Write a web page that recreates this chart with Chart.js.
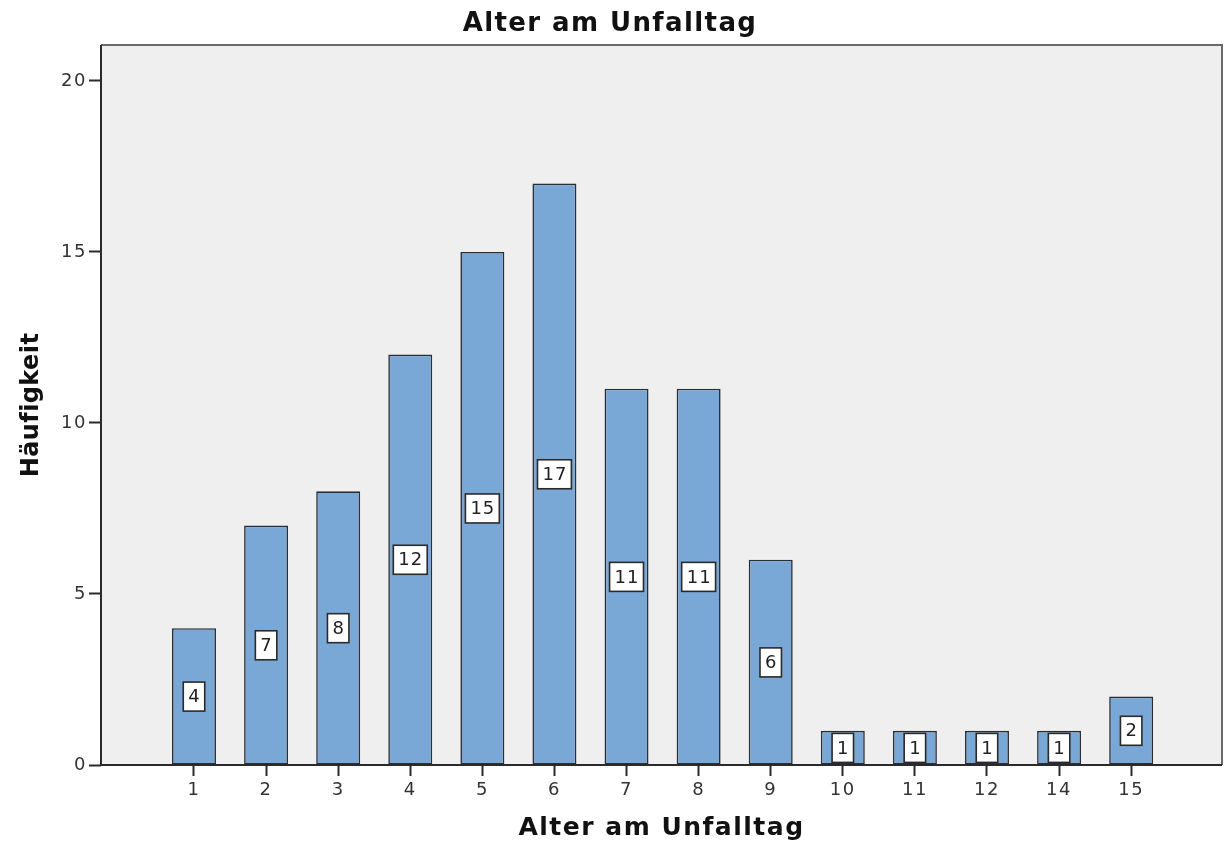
<!DOCTYPE html>
<html>
<head>
<meta charset="utf-8">
<script src="https://cdn.jsdelivr.net/npm/chart.js@4/dist/chart.umd.min.js"></script>
<style>
  html, body { margin: 0; padding: 0; background: #ffffff; }
  #wrap { width: 1224px; height: 843px; }
</style>
</head>
<body>
<div id="wrap"><canvas id="c" width="1224" height="843"></canvas></div>
<script>
// Age at the day of the accident and how many cases fall on each age
const ages = ['1', '2', '3', '4', '5', '6', '7', '8', '9', '10', '11', '12', '14', '15'];
const counts = [4, 7, 8, 12, 15, 17, 11, 11, 6, 1, 1, 1, 1, 2];
const yTicks = [0, 5, 10, 15, 20];

const chartTitle = 'Alter am Unfalltag';
const xTitle = 'Alter am Unfalltag';
const yTitle = 'Häufigkeit';

const FONT = '"DejaVu Sans", "Liberation Sans", sans-serif';

// Grey panel behind the bars plus the frame around it; also widens tick text spacing
const panel = {
  id: 'panel',
  beforeDraw(chart) {
    const { ctx, chartArea: a } = chart;
    ctx.fillStyle = '#efefef';
    ctx.fillRect(a.left, a.top, a.right - a.left, a.bottom - a.top);
    ctx.letterSpacing = '1.5px';
  },
  afterDraw(chart) {
    const { ctx, chartArea: a } = chart;
    ctx.save();
    ctx.strokeStyle = '#6a6a6a';
    ctx.lineWidth = 2;
    ctx.beginPath();
    ctx.moveTo(a.left, a.top);
    ctx.lineTo(a.right, a.top);
    ctx.lineTo(a.right, a.bottom);
    ctx.stroke();
    ctx.strokeStyle = '#2a2a2a';
    ctx.beginPath();
    ctx.moveTo(a.left, a.top);
    ctx.lineTo(a.left, a.bottom);
    ctx.lineTo(a.right, a.bottom);
    ctx.stroke();
    ctx.restore();
  }
};

// Boxed count label in the middle of every bar
const boxLabels = {
  id: 'boxLabels',
  afterDatasetsDraw(chart) {
    const { ctx } = chart;
    const meta = chart.getDatasetMeta(0);
    const yScale = chart.scales.y;
    ctx.save();
    ctx.letterSpacing = '1px';
    ctx.font = '18px ' + FONT;
    ctx.textAlign = 'center';
    ctx.textBaseline = 'middle';
    meta.data.forEach((bar, i) => {
      const v = counts[i];
      const cx = bar.x;
      const cy = yScale.getPixelForValue(v / 2);
      const txt = String(v);
      const w = ctx.measureText(txt).width + 9;
      const h = 29;
      ctx.fillStyle = '#ffffff';
      ctx.fillRect(cx - w / 2, cy - h / 2, w, h);
      ctx.strokeStyle = '#2a2a2a';
      ctx.lineWidth = 1.6;
      ctx.strokeRect(cx - w / 2, cy - h / 2, w, h);
      ctx.fillStyle = '#222222';
      ctx.fillText(txt, cx + 0.5, cy + 1);
    });
    ctx.restore();
  }
};

// Chart title and both axis titles
const titles = {
  id: 'titles',
  afterDraw(chart) {
    const { ctx, chartArea: a } = chart;
    ctx.save();
    ctx.fillStyle = '#111111';
    ctx.textAlign = 'center';
    ctx.textBaseline = 'middle';
    ctx.font = 'bold 26px ' + FONT;
    ctx.letterSpacing = '1.4px';
    ctx.fillText(chartTitle, 610, 24);
    ctx.font = 'bold 25px ' + FONT;
    ctx.letterSpacing = '1.5px';
    ctx.fillText(xTitle, (a.left + a.right) / 2, 828);
    ctx.font = 'bold 24px ' + FONT;
    ctx.letterSpacing = '0.4px';
    ctx.translate(32, (a.top + a.bottom) / 2);
    ctx.rotate(-Math.PI / 2);
    ctx.fillText(yTitle, 0, 0);
    ctx.restore();
  }
};

const points = counts.map((v, i) => ({ x: i, y: v }));

new Chart(document.getElementById('c'), {
  type: 'bar',
  data: {
    datasets: [{
      data: points,
      backgroundColor: '#79a8d7',
      borderColor: '#2a2f36',
      borderWidth: 1.6,
      borderSkipped: false,
      barPercentage: 0.61,
      categoryPercentage: 1.0
    }]
  },
  options: {
    responsive: false,
    animation: false,
    layout: { padding: { top: 45, right: 2, left: 0, bottom: 0 } },
    plugins: {
      legend: { display: false },
      tooltip: { enabled: false }
    },
    scales: {
      x: {
        type: 'linear',
        offset: false,
        min: -1.29,
        max: ages.length - 1 + 1.26,
        afterBuildTicks(scale) {
          scale.ticks = ages.map((_, i) => ({ value: i }));
        },
        afterFit(scale) { scale.height = 78; },
        grid: {
          display: true,
          offset: false,
          drawOnChartArea: false,
          drawTicks: true,
          tickLength: 11,
          tickWidth: 2,
          tickColor: '#2a2a2a'
        },
        border: { display: false },
        ticks: {
          autoSkip: false,
          maxRotation: 0,
          padding: 4,
          color: '#333333',
          font: { family: FONT, size: 18 },
          callback: (v) => ages[v] !== undefined ? ages[v] : ''
        }
      },
      y: {
        min: 0,
        max: 21.05,
        afterBuildTicks(scale) {
          scale.ticks = yTicks.map(v => ({ value: v }));
        },
        afterFit(scale) { scale.width = 101; },
        grid: {
          display: true,
          drawOnChartArea: false,
          drawTicks: true,
          tickLength: 12,
          tickWidth: 2,
          tickColor: '#2a2a2a'
        },
        border: { display: false },
        ticks: {
          padding: 2,
          color: '#333333',
          font: { family: FONT, size: 18 }
        }
      }
    }
  },
  plugins: [panel, boxLabels, titles]
});
</script>
</body>
</html>
